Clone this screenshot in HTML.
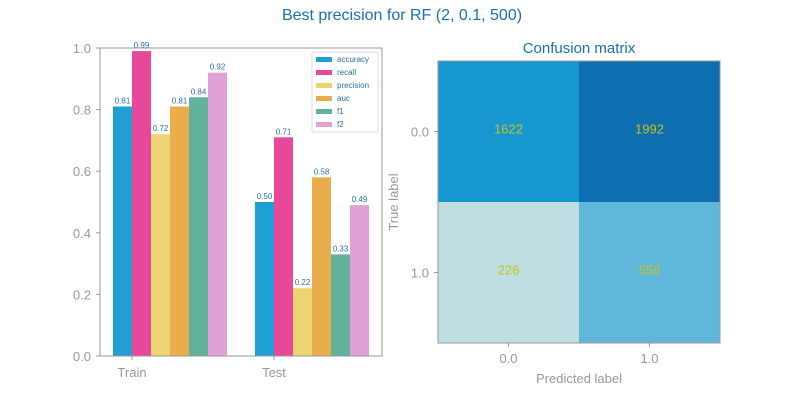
<!DOCTYPE html>
<html><head><meta charset="utf-8"><style>
body{margin:0;background:#fff;}
svg text{font-family:"Liberation Sans","DejaVu Sans",sans-serif;}
</style></head><body>
<svg width="800" height="400" xmlns="http://www.w3.org/2000/svg">
<rect width="800" height="400" fill="#fff"/>
<text x="402" y="20" text-anchor="middle" font-size="16" fill="#1a6faf">Best precision for RF (2, 0.1, 500)</text>
<g id="bars"></g>
<g id="cm"></g>
</svg>
<script>
const groups=["Train","Test"];
const metrics=["accuracy","recall","precision","auc","f1","f2"];
const colors=["#1f9fd4","#e8489a","#ecd374","#e9ad4c","#62b19c","#e0a2d6"];
const trainVals=[0.81,0.99,0.72,0.81,0.84,0.92];
const testVals=[0.50,0.71,0.22,0.58,0.33,0.49];
const yTicks=[0,0.2,0.4,0.6,0.8,1.0];
const cmVals=[[1622,1992],[226,558]];
const cmColors=[["#1797d0","#0d6faf"],["#bfdee1","#5fb7d9"]];
const cmTicks=["0.0","1.0"];
const NS="http://www.w3.org/2000/svg";
function mk(p,t,a,txt){const e=document.createElementNS(NS,t);for(const k in a)e.setAttribute(k,a[k]);if(txt!==undefined)e.textContent=txt;p.appendChild(e);return e;}
const B=document.getElementById('bars');
const x0=100,x1=382,yT=48,yB=356;
const y=v=>yB-v*(yB-yT);
const bw=19, gStart=[113,255];
yTicks.forEach(t=>{
 const l=mk(B,'line',{x1:x0-4,x2:x0,y1:y(t),y2:y(t),stroke:'#999'});
 
 
 const tx=mk(B,'text',{x:x0-9,y:y(t)+5,'text-anchor':'end','font-size':13,fill:'#999'},t.toFixed(1));
 
 
});
[trainVals,testVals].forEach((vals,gi)=>{
 vals.forEach((v,i)=>{
  const bx=gStart[gi]+i*bw;
  const r=mk(B,'rect',{x:bx,y:y(v),width:bw,height:yB-y(v),fill:colors[i]});
  
  
  const t=mk(B,'text',{x:bx+bw/2,y:y(v)-3,'text-anchor':'middle','font-size':8,fill:'#2b6fb0'},v.toFixed(2));
  
  
 });
 const cx=gStart[gi]+bw;
 mk(B,'line',{x1:cx,x2:cx,y1:yB,y2:yB+4,stroke:'#999'});
 const gl=mk(B,'text',{x:cx,y:yB+21,'text-anchor':'middle','font-size':13,fill:'#999'},groups[gi]);
 
 
});
const fr=mk(B,'rect',{x:x0,y:yT,width:x1-x0,height:yB-yT,fill:'none',stroke:'#999'});


const lg=mk(B,'g',{});


mk(lg,'rect',{x:312,y:52,width:66,height:80,rx:2,fill:'#fff',stroke:'#ddd'});
metrics.forEach((m,i)=>{
 const ly=59+i*13;
 mk(lg,'rect',{x:316,y:ly-2,width:16,height:5,fill:colors[i]});
 const t=mk(lg,'text',{x:337,y:ly+3,'font-size':8,fill:'#2b6fb0'},m);
 
 
});
const C=document.getElementById('cm');
const cx0=438,cy0=61,cs=141;
mk(C,'text',{x:579,y:53,'text-anchor':'middle','font-size':15,fill:'#1a6faf'},'Confusion matrix');
cmVals.forEach((row,r)=>row.forEach((v,c)=>{
 const rc=mk(C,'rect',{x:cx0+c*cs,y:cy0+r*cs,width:cs,height:cs,fill:cmColors[r][c]});
 
 
 const t=mk(C,'text',{x:cx0+c*cs+cs/2,y:cy0+r*cs+cs/2+2,'text-anchor':'middle','font-size':13,fill:'#c8c21a'},v);
 
 
}));
mk(C,'rect',{x:cx0,y:cy0,width:2*cs,height:2*cs,fill:'none',stroke:'#999'});
cmTicks.forEach((t,i)=>{
 const p=cx0+cs/2+i*cs, q=cy0+cs/2+i*cs;
 mk(C,'line',{x1:p,x2:p,y1:cy0+2*cs,y2:cy0+2*cs+4,stroke:'#999'});
 mk(C,'text',{x:p,y:cy0+2*cs+20,'text-anchor':'middle','font-size':13,fill:'#999'},t);
 mk(C,'line',{x1:cx0-4,x2:cx0,y1:q,y2:q,stroke:'#999'});
 mk(C,'text',{x:cx0-9,y:q+5,'text-anchor':'end','font-size':13,fill:'#999'},t);
});
mk(C,'text',{x:579,y:383,'text-anchor':'middle','font-size':13,fill:'#999'},'Predicted label');
mk(C,'text',{x:398,y:202,'text-anchor':'middle','font-size':13,fill:'#999',transform:'rotate(-90 398 202)'},'True label');
</script>
</body></html>
